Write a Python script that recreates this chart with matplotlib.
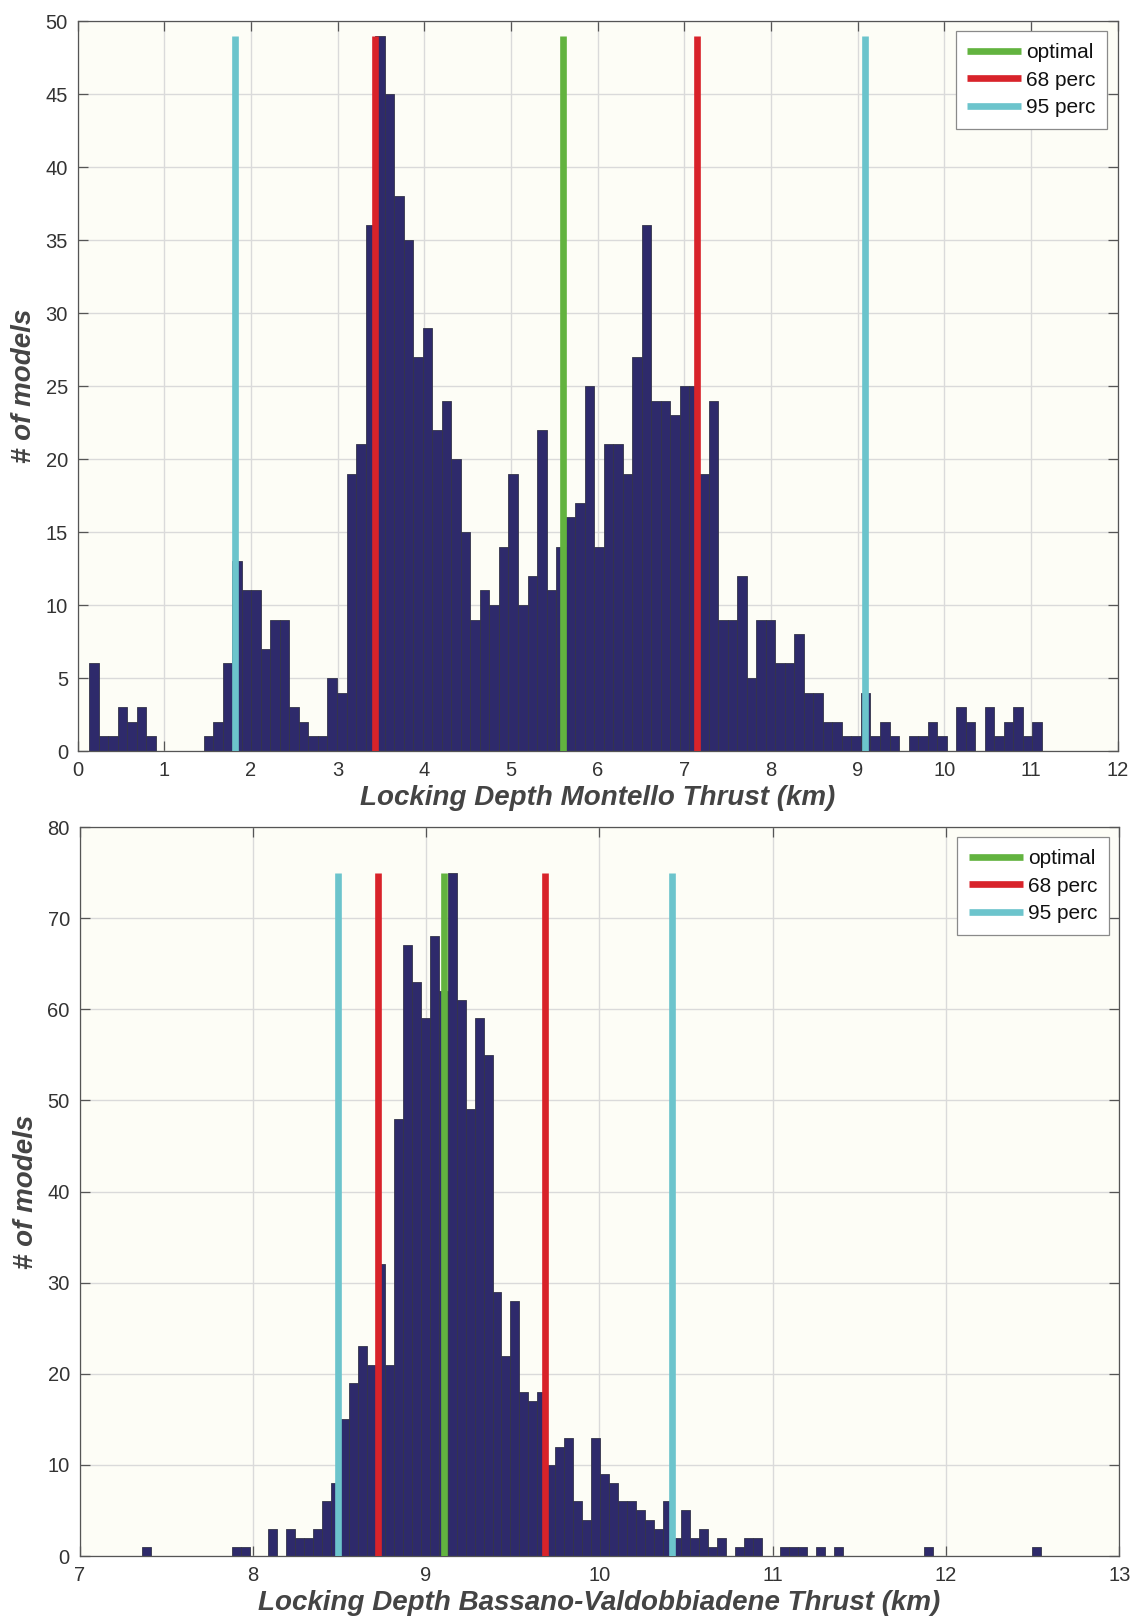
import matplotlib
matplotlib.use("Agg")
import matplotlib.pyplot as plt
import numpy as np

plt.rcParams['font.family'] = ['Liberation Sans', 'DejaVu Sans']

# Montello thrust: 100 bins between the min and max locking depth
montello_range = (0.134, 11.126)
montello_counts = [
    6, 1, 1, 3, 2, 3, 1, 0, 0, 0, 0, 0, 1, 2, 6, 13, 11, 11, 7, 9,
    9, 3, 2, 1, 1, 5, 4, 19, 21, 36, 49, 45, 38, 35, 27, 29, 22, 24, 20, 15,
    9, 11, 10, 14, 19, 10, 12, 22, 11, 14, 16, 17, 25, 14, 21, 21, 19, 27, 36, 24,
    24, 23, 25, 25, 19, 24, 9, 9, 12, 5, 9, 9, 6, 6, 8, 4, 4, 2, 2, 1,
    1, 4, 1, 2, 1, 0, 1, 1, 2, 1, 0, 3, 2, 0, 3, 1, 2, 3, 1, 2,
]
montello_optimal = 5.603
montello_68 = [3.425, 7.145]
montello_95 = [1.816, 9.081]

# Bassano-Valdobbiadene thrust
bassano_range = (7.361, 12.546)
bassano_counts = [
    1, 0, 0, 0, 0, 0, 0, 0, 0, 0, 1, 1, 0, 0, 3, 0, 3, 2, 2, 3,
    6, 8, 15, 19, 23, 21, 32, 21, 48, 67, 63, 59, 68, 62, 75, 61, 49, 59, 55, 29,
    22, 28, 18, 17, 18, 10, 12, 13, 6, 4, 13, 9, 8, 6, 6, 5, 4, 3, 6, 2,
    5, 2, 3, 1, 2, 0, 1, 2, 2, 0, 0, 1, 1, 1, 0, 1, 0, 1, 0, 0,
    0, 0, 0, 0, 0, 0, 0, 1, 0, 0, 0, 0, 0, 0, 0, 0, 0, 0, 0, 1,
]
bassano_optimal = 9.103
bassano_68 = [8.724, 9.688]
bassano_95 = [8.493, 10.417]

BAR_COLOR = '#2e2a6b'
GREEN = '#62b33f'
RED = '#d8232a'
CYAN = '#6cc4cc'
TEXT = '#333333'


def draw_panel(ax, rng, counts, optimal, p68, p95, xlim, ylim, yticks, xlabel):
    counts = np.array(counts)
    edges = np.linspace(rng[0], rng[1], len(counts) + 1)
    ax.set_facecolor('#fdfdf6')
    ax.bar(edges[:-1], counts, width=np.diff(edges), align='edge',
           color=BAR_COLOR, edgecolor='#34344a', linewidth=0.6, zorder=2)

    # percentile lines run up to the tallest bar
    top = counts.max()
    lw = 4.8
    ax.plot([optimal, optimal], [0, top], color=GREEN, lw=lw, zorder=3,
            solid_capstyle='butt', label='optimal')
    for i, x in enumerate(p68):
        ax.plot([x, x], [0, top], color=RED, lw=lw, zorder=3,
                solid_capstyle='butt', label='68 perc' if i == 0 else None)
    for i, x in enumerate(p95):
        ax.plot([x, x], [0, top], color=CYAN, lw=lw, zorder=3,
                solid_capstyle='butt', label='95 perc' if i == 0 else None)

    ax.set_xlim(*xlim)
    ax.set_ylim(*ylim)
    ax.set_xticks(np.arange(xlim[0], xlim[1] + 1))
    ax.set_yticks(yticks)
    ax.grid(True, color='#dadada', linewidth=1.0, zorder=0)
    ax.set_axisbelow(True)
    ax.tick_params(direction='in', length=7, width=0.9, top=True, right=True,
                   labelsize=14.5, colors='#555555', labelcolor=TEXT, pad=7)
    for s in ax.spines.values():
        s.set_color('#555555')
        s.set_linewidth(0.9)
    ax.set_xlabel(xlabel, fontsize=20, fontweight='bold', fontstyle='italic',
                  color='#444444', labelpad=4)
    ax.set_ylabel('# of models', fontsize=20, fontweight='bold',
                  fontstyle='italic', color='#444444', labelpad=6)
    leg = ax.legend(loc='upper right', fontsize=15, frameon=True, fancybox=False,
                    handlelength=2.6, handletextpad=0.25, borderpad=0.55,
                    labelspacing=0.42, borderaxespad=0.5)
    leg.get_frame().set_edgecolor('#8a8a8a')
    leg.get_frame().set_facecolor('white')
    leg.get_frame().set_linewidth(0.9)
    leg.get_frame().set_alpha(1)
    for t in leg.get_texts():
        t.set_color('#111111')


fig = plt.figure(figsize=(11.36, 16.2), dpi=100)
ax1 = fig.add_axes([0.0684, 0.5364, 0.9155, 0.4506])
ax2 = fig.add_axes([0.0700, 0.0395, 0.9153, 0.4500])

draw_panel(ax1, montello_range, montello_counts, montello_optimal,
           montello_68, montello_95, (0, 12), (0, 50), np.arange(0, 51, 5),
           'Locking Depth Montello Thrust (km)')
draw_panel(ax2, bassano_range, bassano_counts, bassano_optimal,
           bassano_68, bassano_95, (7, 13), (0, 80), np.arange(0, 81, 10),
           'Locking Depth Bassano-Valdobbiadene Thrust (km)')

fig.savefig('out.png', dpi=100)
